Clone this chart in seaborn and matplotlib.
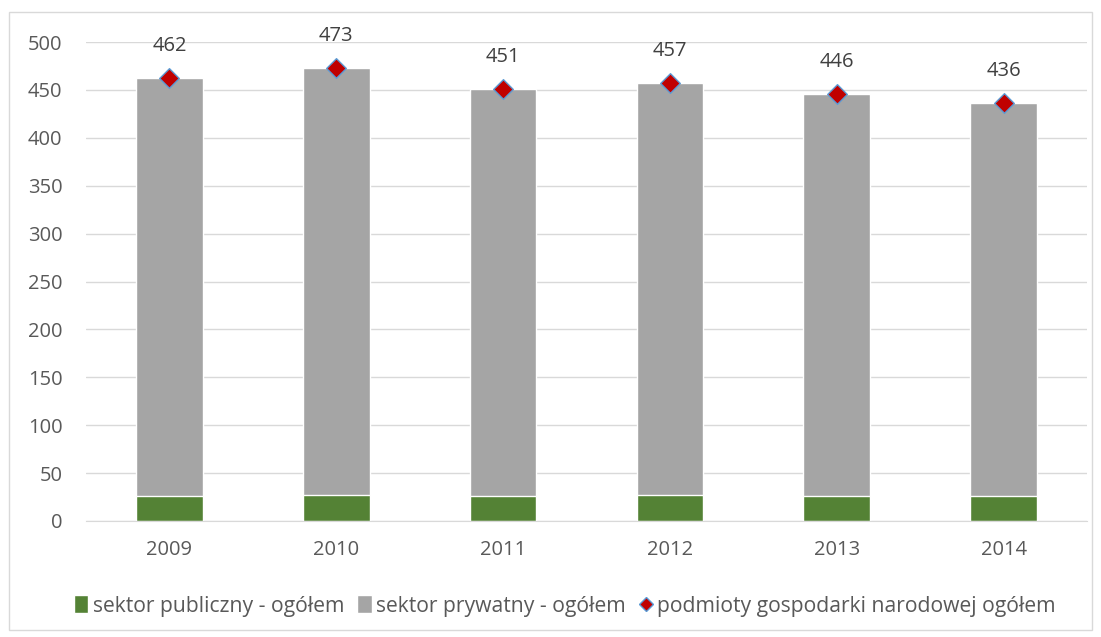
import matplotlib
matplotlib.use('Agg')
import matplotlib.pyplot as plt
import seaborn as sns
import pandas as pd
from matplotlib.patches import Patch, Rectangle
from matplotlib.lines import Line2D

# dane
lata = ['2009', '2010', '2011', '2012', '2013', '2014']
ogolem = [462, 473, 451, 457, 446, 436]
publiczny = [26, 27, 26, 27, 26, 26]
prywatny = [o - p for o, p in zip(ogolem, publiczny)]

kolor_pub = '#548235'
kolor_pryw = '#A5A5A5'
kolor_tekst = '#595959'

sns.set_style('white')
plt.rcParams['font.family'] = ['Open Sans', 'DejaVu Sans']

df = pd.DataFrame({'rok': lata, 'publiczny': publiczny, 'prywatny': prywatny, 'ogolem': ogolem})
df['suma'] = df['publiczny'] + df['prywatny']

fig = plt.figure(figsize=(11.01, 6.37), dpi=100)
ax = fig.add_axes([86 / 1101, 1 - 521 / 637, 1001 / 1101, 479 / 637])

# słupki skumulowane: szary do sumy, zielony na dole
sns.barplot(data=df, x='rok', y='suma', color=kolor_pryw, width=0.4, saturation=1, ax=ax)
sns.barplot(data=df, x='rok', y='publiczny', color=kolor_pub, width=0.4, saturation=1, ax=ax)
sns.stripplot(data=df, x='rok', y='ogolem', jitter=False, marker='D', color='#C00000',
              edgecolor='#5B9BD5', linewidth=1, size=10, ax=ax, zorder=5)

for i, v in enumerate(ogolem):
    ax.annotate(str(v), (i, v), xytext=(0, 16), textcoords='offset points',
                ha='center', va='bottom', fontsize=14.5, color='#404040')

ax.set_ylim(0, 500)
ax.set_xlim(-0.5, 5.5)
ax.set_yticks(range(0, 501, 50))
ax.yaxis.grid(True, color='#D9D9D9', linewidth=1)
ax.set_axisbelow(True)
for s in ['top', 'right', 'left']:
    ax.spines[s].set_visible(False)
ax.spines['bottom'].set_color('#D9D9D9')
ax.set_xlabel('')
ax.set_ylabel('')
ax.tick_params(axis='both', length=0, labelsize=14.5, labelcolor=kolor_tekst)
ax.tick_params(axis='x', pad=14)
ax.tick_params(axis='y', pad=17)

uchwyty = [
    Patch(facecolor=kolor_pub, label='sektor publiczny - ogółem'),
    Patch(facecolor=kolor_pryw, label='sektor prywatny - ogółem'),
    Line2D([], [], marker='D', linestyle='none', color='#C00000', markeredgecolor='#5B9BD5',
           markersize=7, label='podmioty gospodarki narodowej ogółem'),
]
fig.legend(handles=uchwyty, loc='center', bbox_to_anchor=(0.513, 1 - 606 / 637), ncol=3,
           frameon=False, fontsize=15.2, labelcolor=kolor_tekst, handlelength=0.7,
           handleheight=0.9, handletextpad=0.2, columnspacing=0.6)

fig.patches.append(Rectangle((9 / 1101, 1 - 630 / 637), 1083 / 1101, 618 / 637,
                             transform=fig.transFigure, fill=False, edgecolor='#D9D9D9', linewidth=1))

fig.savefig('out.png', dpi=100)
